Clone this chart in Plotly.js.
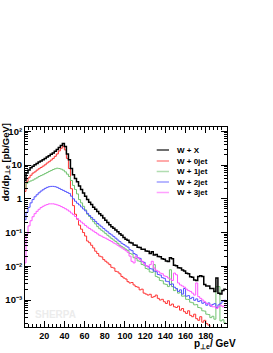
<!DOCTYPE html>
<html><head><meta charset="utf-8">
<script src="https://cdn.plot.ly/plotly-3.0.1.min.js"></script>
<style>html,body{margin:0;padding:0;background:#fff;}#chart{width:273px;height:353px;}</style>
</head><body><div id="chart"></div>
<script>
// histogram binning (GeV)
const binLow = 0;
const binWidth = 2;

const seriesNames = ['W + X', 'W + 0jet', 'W + 1jet', 'W + 2jet', 'W + 3jet'];
const seriesColors = ['#000000', '#ff3333', '#72c372', '#5252ff', '#ff55ff'];
const seriesWidths = [1.5, 1, 1, 1, 1];

// dsigma/dpT [pb/GeV], one value per 2 GeV bin from 0 to 200
const wX = [3.5,5.8,7.2,8.3,9.3,10.2,11.2,12.3,13.2,14.5,
  15.8,17.4,19.1,20.9,22.9,25.7,28.8,33.1,38,43.7,
  35.5,21.4,14.5,7.9,5.2,4.0,3.2,2.4,1.9,1.5,
  1.2,0.95,0.79,0.68,0.56,0.49,0.42,0.36,0.32,0.27,
  0.23,0.2,0.17,0.15,0.135,0.12,0.105,0.093,0.083,0.072,
  0.063,0.059,0.051,0.049,0.043,0.042,0.037,0.036,0.032,0.032,
  0.0285,0.028,0.024,0.027,0.0218,0.0222,0.0195,0.0192,0.0168,0.0162,
  0.0143,0.0138,0.0178,0.0166,0.0108,0.0103,0.009,0.0089,0.0077,0.0073,
  0.0062,0.006,0.0049,0.0047,0.0039,0.0038,0.005,0.0052,0.005,0.0029,
  0.0026,0.0026,0.0022,0.0022,0.0018,0.0045,0.0016,0.0015,0.0019,0.0021];

const w0jet = [1.66,3.2,4.2,5.0,5.8,6.3,7.1,7.8,8.5,9.3,
  10.2,11.5,12.6,14.1,15.8,18.2,21.4,26.3,31.6,36.3,
  28.2,15.8,7.9,2.0,0.63,0.35,0.25,0.166,0.126,0.1,
  0.079,0.056,0.05,0.042,0.035,0.028,0.024,0.02,0.019,0.0158,
  0.0141,0.0126,0.0112,0.0093,0.0089,0.0071,0.0068,0.006,0.005,0.0045,
  0.0042,0.0035,0.0032,0.0033,0.0028,0.0025,0.0024,0.002,0.0021,0.0016,
  0.0015,0.0014,0.00148,0.0012,0.00126,0.0014,0.00112,0.001,0.00105,0.00089,
  0.00079,0.00095,0.0007,0.00076,0.00063,0.0006,0.00066,0.0005,0.00056,0.00045,
  0.0004,0.00048,0.00035,0.00032,0.00038,0.00028,0.00025,0.00032,0.00022,0.00025,
  0.0002,0.00018,0.000126,0.00001,0.00001,0.00001,0.00001,0.00001,0.00001,0.00001];

const w1jet = [2.0,2.9,3.2,3.4,3.6,3.9,4.2,4.6,4.9,5.2,
  5.6,6.0,6.5,6.9,7.4,7.8,8.1,7.9,7.6,7.1,
  6.3,5.4,4.6,3.5,2.5,1.9,1.4,0.95,0.76,0.6,
  0.47,0.35,0.3,0.25,0.21,0.18,0.15,0.13,0.117,0.105,
  0.093,0.083,0.074,0.066,0.06,0.054,0.048,0.042,0.038,0.035,
  0.032,0.029,0.024,0.023,0.018,0.0172,0.0145,0.014,0.0113,0.0108,
  0.0086,0.0082,0.0068,0.0066,0.0112,0.0050,0.0047,0.0038,0.0037,0.0030,
  0.0029,0.0025,0.0079,0.0025,0.0019,0.002,0.0016,0.0017,0.0013,0.00132,
  0.00105,0.00104,0.00086,0.00083,0.00072,0.00073,0.0006,0.00058,0.00048,0.00047,
  0.00038,0.00037,0.0003,0.00033,0.00027,0.0025,0.0025,0.00024,0.00026,0.00021];

const w2jet = [0.24,0.4,0.56,0.76,0.95,1.15,1.32,1.51,1.7,1.86,
  2.04,2.19,2.29,2.34,2.34,2.29,2.19,2.04,1.9,1.78,
  1.66,1.55,1.45,1.2,1.0,0.85,0.74,0.66,0.575,0.5,
  0.44,0.37,0.32,0.28,0.245,0.214,0.186,0.166,0.148,0.132,
  0.117,0.105,0.093,0.085,0.076,0.068,0.06,0.054,0.048,0.044,
  0.04,0.037,0.031,0.029,0.024,0.022,0.018,0.0172,0.0138,0.0131,
  0.0104,0.0099,0.0085,0.0083,0.0072,0.0069,0.0057,0.0055,0.0046,0.0044,
  0.0036,0.0035,0.0029,0.0030,0.0024,0.0022,0.0018,0.0020,0.0015,0.0022,
  0.0013,0.00135,0.0011,0.0012,0.00098,0.00108,0.0009,0.00096,0.0008,0.00085,
  0.0007,0.00082,0.00066,0.00074,0.00078,0.0006,0.00072,0.0008,0.00092,0.00098];

const w3jet = [0.0126,0.089,0.158,0.224,0.295,0.363,0.427,0.49,0.55,0.6,
  0.645,0.676,0.71,0.71,0.71,0.69,0.66,0.63,0.59,0.55,
  0.51,0.47,0.43,0.38,0.34,0.3,0.26,0.23,0.204,0.182,
  0.162,0.145,0.132,0.12,0.11,0.1,0.091,0.083,0.078,0.072,
  0.068,0.063,0.058,0.054,0.049,0.046,0.042,0.038,0.035,0.032,
  0.029,0.026,0.02,0.014,0.0126,0.02,0.0178,0.0158,0.0141,0.012,
  0.0105,0.0095,0.0112,0.0141,0.0089,0.0076,0.0071,0.0063,0.006,0.0052,
  0.005,0.0045,0.0042,0.0038,0.0063,0.0056,0.0032,0.0028,0.0026,0.0024,
  0.0021,0.0019,0.0018,0.0016,0.0014,0.0032,0.00126,0.00112,0.001,0.00089,
  0.00079,0.00076,0.0007,0.00063,0.00063,0.00056,0.00063,0.0007,0.00063,0.0007];

const xTickVals = [20, 40, 60, 80, 100, 120, 140, 160, 180];
const yTickVals = [1e-3, 1e-2, 1e-1, 1, 10, 100];
const yTickText = ['10⁻³', '10⁻²', '10⁻¹', '1', '10', '10²'];

const allSeries = [wX, w0jet, w1jet, w2jet, w3jet];

function edges(vals) {
  const xs = [];
  for (let i = 0; i <= vals.length; i++) xs.push(binLow + i * binWidth);
  return xs;
}
function stepY(vals) { return vals.concat([vals[vals.length - 1]]); }

// draw components first, total last (on top)
const order = [1, 2, 3, 4, 0];
const traces = order.map(k => ({
  type: 'scatter', mode: 'lines',
  x: edges(allSeries[k]), y: stepY(allSeries[k]),
  line: {shape: 'hv', color: seriesColors[k], width: seriesWidths[k]},
  name: seriesNames[k], showlegend: false, hoverinfo: 'skip'
}));

const xMinor = [];
for (let v = 4; v < 200; v += 4) if (v % 20 !== 0) xMinor.push(v);
const yMinor = [];
for (let d = -4; d <= 2; d++) for (let k = 2; k <= 9; k++) yMinor.push(k * Math.pow(10, d));

const font = {family: 'Liberation Sans, Arial, sans-serif', size: 9, color: '#000', weight: 'bold'};

const annotations = [
  {xref: 'paper', yref: 'paper', x: -0.099, y: 1.03, xanchor: 'center', yanchor: 'top', textangle: -90,
   text: 'dσ/dp<sub>⊥e</sub> [pb/GeV]', showarrow: false, font: Object.assign({}, font, {size: 9.5})},
  {xref: 'paper', yref: 'paper', x: 1.055, y: -0.085, xanchor: 'right', yanchor: 'middle',
   text: 'p<sub>⊥e</sub>/ GeV', showarrow: false, font: Object.assign({}, font, {size: 10})},
  {xref: 'paper', yref: 'paper', x: 0.15, y: 0.065, xanchor: 'center', yanchor: 'middle',
   text: 'SHERPA', showarrow: false, font: Object.assign({}, font, {size: 10, color: '#ececec'})}
];
const shapes = [];
const legendRows = [0.885, 0.83, 0.7775, 0.725, 0.6725];
seriesNames.forEach((n, i) => {
  shapes.push({type: 'line', xref: 'paper', yref: 'paper', x0: 0.652, x1: 0.713, y0: legendRows[i], y1: legendRows[i],
    line: {color: seriesColors[i], width: 1.5}, opacity: i === 0 ? 0.75 : 0.55});
  annotations.push({xref: 'paper', yref: 'paper', x: 0.743, y: legendRows[i], xanchor: 'left', yanchor: 'middle',
    text: n, showarrow: false, font: Object.assign({}, font, {size: 8})});
});

const layout = {
  width: 273, height: 353,
  margin: {l: 25, r: 46, t: 127, b: 26, pad: 0},
  paper_bgcolor: '#fff', plot_bgcolor: '#fff',
  showlegend: false,
  font: font,
  xaxis: {
    range: [1, 201], tickmode: 'array', tickvals: xTickVals,
    ticks: 'inside', ticklen: 6, tickwidth: 1, tickcolor: '#000',
    showline: true, linecolor: '#000', linewidth: 1, mirror: 'ticks',
    showgrid: false, zeroline: false, tickfont: font,
    minor: {tickmode: 'array', tickvals: xMinor, ticks: 'inside', ticklen: 3, tickcolor: '#000', showgrid: false}
  },
  yaxis: {
    type: 'log', range: [-3.8, 2.13], tickmode: 'array', tickvals: yTickVals, ticktext: yTickText,
    ticks: 'inside', ticklen: 6, tickwidth: 1, tickcolor: '#000',
    showline: true, linecolor: '#000', linewidth: 1, mirror: 'ticks',
    showgrid: false, zeroline: false, tickfont: Object.assign({}, font, {size: 9.5}),
    minor: {tickmode: 'array', tickvals: yMinor, ticks: 'inside', ticklen: 3, tickcolor: '#000', showgrid: false}
  },
  annotations: annotations,
  shapes: shapes
};

Plotly.newPlot('chart', traces, layout, {staticPlot: true, displayModeBar: false});
</script>
</body></html>
